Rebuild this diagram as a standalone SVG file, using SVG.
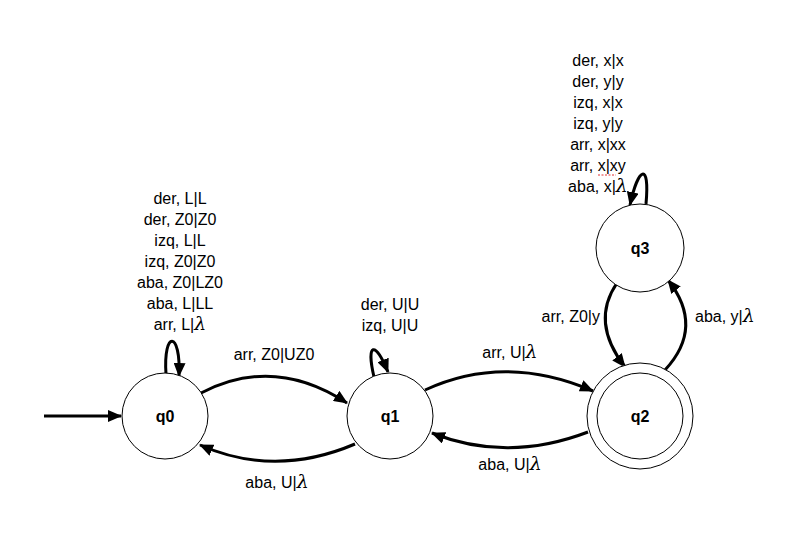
<svg xmlns="http://www.w3.org/2000/svg" width="792" height="560" viewBox="0 0 792 560">
<style>
.st{fill:#fff;stroke:#000;stroke-width:1}
.nl{font-family:"Liberation Sans",Arial,sans-serif;font-size:16px;font-weight:bold;text-anchor:middle;fill:#000}
.lb{font-family:"Liberation Sans",Arial,sans-serif;font-size:16px;fill:#000}
.c{text-anchor:middle}
.e{fill:none;stroke:#000;stroke-width:3}
.lam{font-family:"DejaVu Serif",serif;font-style:italic;font-size:19px}
</style>
<defs>
<marker id="ah" viewBox="0 0 14 12" refX="13" refY="6" markerWidth="14" markerHeight="12" orient="auto" markerUnits="userSpaceOnUse">
<path d="M0,0 L14,6 L0,12 z" fill="#000"/>
</marker>
</defs>
<rect width="792" height="560" fill="#fff"/>
<g id="connectors">
<path class="e" d="M44,416 L121,416" marker-end="url(#ah)"/>
<path class="e" d="M166,374 C163,330 181,330 179,376" marker-end="url(#ah)"/>
<path class="e" d="M374,377 C366,343 375,340 388,372" marker-end="url(#ah)"/>
<path class="e" d="M646,204 C650,160 638,168 630,205" marker-end="url(#ah)"/>
<path class="e" d="M201,393 Q274,355 347,403" marker-end="url(#ah)"/>
<path class="e" d="M355,444 Q275,478 200,445" marker-end="url(#ah)"/>
<path class="e" d="M425,390 Q505,353 593,391" marker-end="url(#ah)"/>
<path class="e" d="M588,432 Q507,463 432,433" marker-end="url(#ah)"/>
<path class="e" d="M617,283 Q590,322 625,367" marker-end="url(#ah)"/>
<path class="e" d="M665,370 Q705,327 668,280" marker-end="url(#ah)"/>
</g>
<g id="q0"><circle class="st" cx="165" cy="416" r="43"/><text class="nl" x="165" y="422">q0</text></g>
<g id="q1"><circle class="st" cx="390" cy="416" r="43"/><text class="nl" x="390" y="422">q1</text></g>
<g id="q2"><circle class="st" cx="640" cy="416" r="53"/><circle class="st" cx="640" cy="416" r="43"/><text class="nl" x="640" y="422">q2</text></g>
<g id="q3"><circle class="st" cx="640" cy="248" r="44"/><text class="nl" x="640" y="254">q3</text></g>
<g id="labels">
<text class="lb c" x="180" y="204">der, L|L</text>
<text class="lb c" x="180" y="225">der, Z0|Z0</text>
<text class="lb c" x="180" y="246">izq, L|L</text>
<text class="lb c" x="180" y="267">izq, Z0|Z0</text>
<text class="lb c" x="180" y="288">aba, Z0|LZ0</text>
<text class="lb c" x="180" y="309">aba, L|LL</text>
<text class="lb c" x="180" y="330">arr, L|<tspan class="lam">λ</tspan></text>
<text class="lb c" x="390" y="310">der, U|U</text>
<text class="lb c" x="390" y="331">izq, U|U</text>
<text class="lb c" x="598" y="66">der, x|x</text>
<text class="lb c" x="598" y="87">der, y|y</text>
<text class="lb c" x="598" y="108">izq, x|x</text>
<text class="lb c" x="598" y="129">izq, y|y</text>
<text class="lb c" x="598" y="150">arr, x|xx</text>
<text class="lb c" x="598" y="171">arr, x|xy</text>
<text class="lb c" x="598" y="192">aba, x|<tspan class="lam">λ</tspan></text>
<line x1="598" y1="175" x2="616" y2="175" stroke="#e03030" stroke-width="1" stroke-dasharray="2,1.5"/>
<text class="lb c" x="274" y="360">arr, Z0|UZ0</text>
<text class="lb c" x="277" y="488">aba, U|<tspan class="lam">λ</tspan></text>
<text class="lb c" x="510" y="358">arr, U|<tspan class="lam">λ</tspan></text>
<text class="lb c" x="510" y="470">aba, U|<tspan class="lam">λ</tspan></text>
<text class="lb" x="600" y="322" text-anchor="end">arr, Z0|y</text>
<text class="lb" x="695" y="322">aba, y|<tspan class="lam">λ</tspan></text>
</g>
</svg>
